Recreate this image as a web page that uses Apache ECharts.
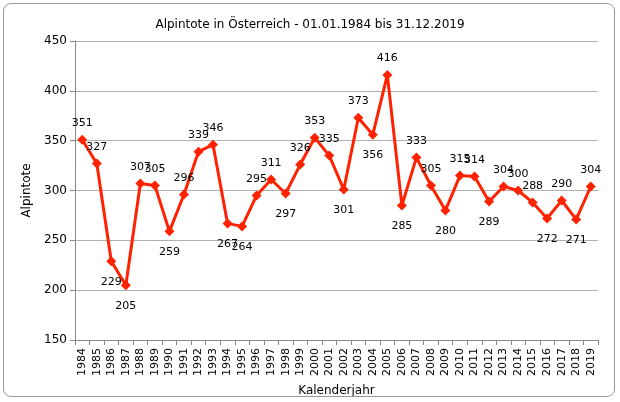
<!DOCTYPE html>
<html><head><meta charset="utf-8">
<script src="https://cdn.jsdelivr.net/npm/echarts@6/dist/echarts.min.js"></script>
<style>html,body{margin:0;padding:0;background:#fff}#c{width:620px;height:402px}
#frame{position:absolute;left:3px;top:3px;width:612px;height:394px;border:1px solid #999;border-radius:8px;box-sizing:border-box;pointer-events:none}</style>
</head><body><div id="c"></div><div id="frame"></div>
<script>
const years = ['1984','1985','1986','1987','1988','1989','1990','1991','1992','1993','1994','1995','1996','1997','1998','1999','2000','2001','2002','2003','2004','2005','2006','2007','2008','2009','2010','2011','2012','2013','2014','2015','2016','2017','2018','2019'];
const deaths = [351,327,229,205,307,305,259,296,339,346,267,264,295,311,297,326,353,335,301,373,356,416,285,333,305,280,315,314,289,304,300,288,272,290,271,304];
const belowYears = ['1986','1994','2004'];
const data = deaths.map((v,i)=>{
  const p = i>0?deaths[i-1]:Infinity, n = i<deaths.length-1?deaths[i+1]:Infinity;
  const low = (v<p && v<n) || belowYears.includes(years[i]);
  return {value:v,label:{position: low?'bottom':'top', distance: low?10:6}};
});
const chart = echarts.init(document.getElementById('c'));
chart.setOption({
  animation:false,
  title:{text:'Alpintote in Österreich - 01.01.1984 bis 31.12.2019',left:'center',top:14,textStyle:{fontSize:12,fontWeight:'normal',color:'#000',fontFamily:'DejaVu Sans'}},
  grid:{left:75,right:22,top:41,bottom:59},
  xAxis:{type:'category',data:years,name:'Kalenderjahr',nameLocation:'middle',nameGap:45,
    nameTextStyle:{fontSize:12,color:'#000',fontFamily:'DejaVu Sans'},
    axisLabel:{rotate:90,fontSize:11,color:'#000',interval:0,fontFamily:'DejaVu Sans'},
    axisLine:{lineStyle:{color:'#888'}},axisTick:{show:true,interval:0,lineStyle:{color:'#888'}}},
  yAxis:{type:'value',min:150,max:450,interval:50,name:'Alpintote',nameLocation:'middle',nameGap:40,
    nameTextStyle:{fontSize:12,color:'#000',fontFamily:'DejaVu Sans'},
    axisLabel:{fontSize:12,color:'#000',fontFamily:'DejaVu Sans'},
    axisLine:{show:true,lineStyle:{color:'#888'}},axisTick:{show:true,lineStyle:{color:'#888'}},
    splitLine:{lineStyle:{color:'#b0b0b0'}}},
  series:[{type:'line',data:data,symbol:'diamond',symbolSize:10,
    lineStyle:{color:'#ff2200',width:3},itemStyle:{color:'#ff2200'},
    label:{show:true,fontSize:11,color:'#000',fontFamily:'DejaVu Sans'}}]
});
</script></body></html>
